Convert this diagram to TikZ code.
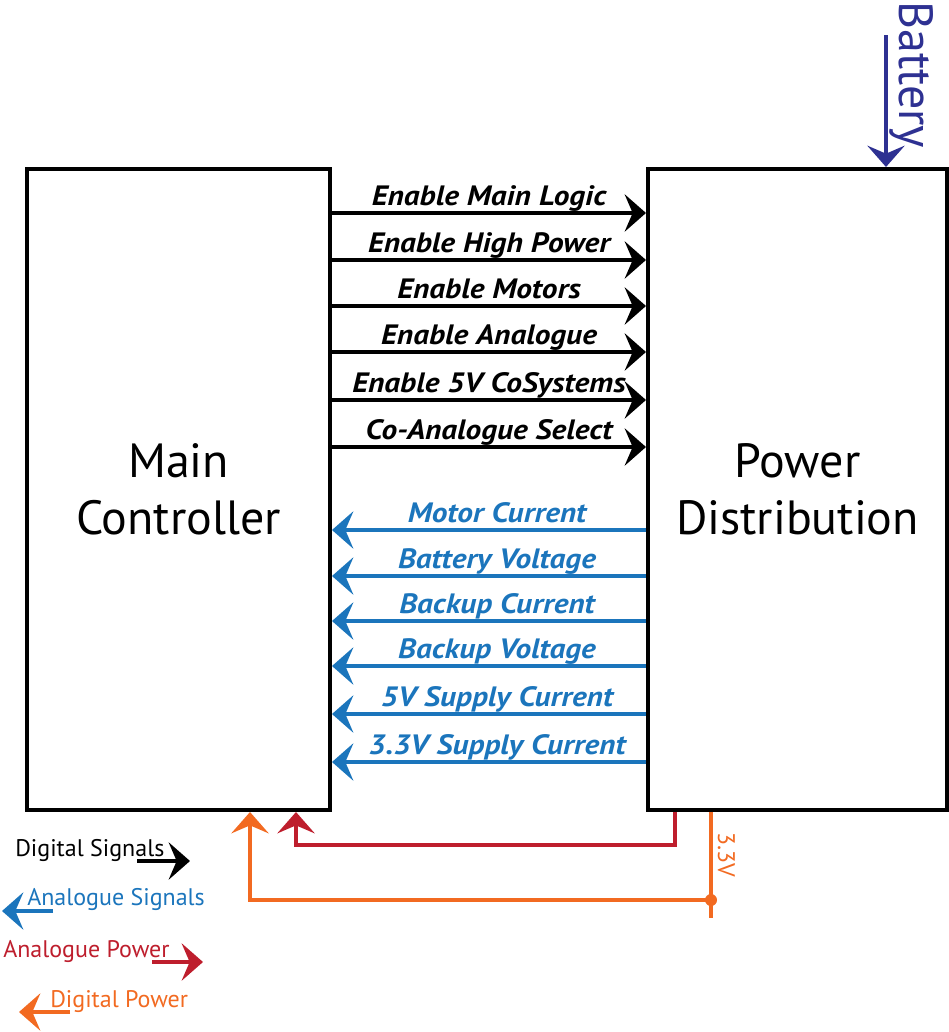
\documentclass[tikz,border=0pt]{standalone}
\usepackage{fontspec}
\setmainfont{PT Sans}
\newfontfamily\sigfont[FakeStretch=1.12]{PT Sans}
\usetikzlibrary{arrows.meta}

\definecolor{anablue}{HTML}{1B75BC}
\definecolor{anared}{HTML}{BE1E2D}
\definecolor{digorange}{HTML}{F26A21}
\definecolor{battnavy}{HTML}{2E3192}

\newcommand\blocktextstyle{\fontsize{36}{43}\selectfont}
\newcommand\sigtextstyle{\sigfont\fontsize{21}{25}\selectfont\bfseries\itshape}
\newcommand\keytextstyle{\fontsize{18}{21}\selectfont}

\tikzset{
  block/.style={draw, line width=3pt, inner sep=0pt, align=center, font=\blocktextstyle},
  wire/.style={line width=2.7pt, -{Stealth[length=16pt, width=28pt, inset=6pt]}},
  digsig/.style={wire, black},
  anasig/.style={wire, anablue},
  anapwr/.style={wire, anared},
  digpwr/.style={wire, digorange},
  siglabel/.style={font=\sigtextstyle, inner sep=0pt, anchor=base},
  keylabel/.style={font=\keytextstyle, inner sep=0pt, anchor=base west},
}

% one control line, controller -> distribution
\newcommand\digline[3]{
  \draw[digsig] (mc.east |- {(0,#2)}) -- (pd.west |- {(0,#2)})
    node[siglabel, pos=.5, yshift=6pt] (#1) {#3} ;
}
% one measurement line, distribution -> controller
\newcommand\analine[3]{
  \draw[anasig] (pd.west |- {(0,#2)}) -- (mc.east |- {(0,#2)})
    node[siglabel, anablue, pos=.5, xshift=6pt, yshift=6pt] (#1) {#3} ;
}

\begin{document}
\begin{tikzpicture}[x=0.75pt, y=-0.75pt]
    \useasboundingbox (0,0) rectangle (949,1032) ;
    \node[block, minimum width=227.25pt, minimum height=480.75pt] (mc) at (178.5, 489.5) {Main\\Controller} ;
    \node[block, minimum width=224.25pt, minimum height=480.75pt] (pd) at (797.5, 489.5) {Power\\Distribution} ;
    % control lines
    \digline{mainlogic}{213}{Enable Main Logic}
    \digline{highpower}{260}{Enable High Power}
    \digline{motors}{306}{Enable Motors}
    \digline{analogue}{352}{Enable Analogue}
    \digline{cosystems}{400}{Enable 5V CoSystems}
    \digline{coselect}{447}{Co-Analogue Select}
    % measurement lines
    \analine{motorcur}{530}{Motor Current}
    \analine{battvolt}{576}{Battery Voltage}
    \analine{backcur}{621}{Backup Current}
    \analine{backvolt}{666}{Backup Voltage}
    \analine{fivecur}{714}{5V Supply Current}
    \analine{threecur}{762}{3.3V Supply Current}
    % battery input
    \node[rotate=-90, anchor=base west, inner sep=0pt, font=\blocktextstyle, text=battnavy] (batt) at (899, 1) {Battery} ;
    \coordinate (battin) at (886, 35) ;
    \draw[wire, battnavy] (battin) -- (pd.north -| battin) ;
    % power back to the controller
    \coordinate (redcorner) at (675, 845) ;
    \coordinate (redtip) at (296, 810) ;
    \draw[anapwr] (pd.south -| redcorner) |- (redcorner -| redtip) -- (mc.south -| redtip) ;
    \coordinate (jn) at (711, 900) ;
    \coordinate (orangeend) at (711, 918) ;
    \coordinate (orangetip) at (250, 810) ;
    \draw[digorange, line width=2.7pt] (pd.south -| jn) -- (orangeend) ;
    \draw[digpwr] (jn) -| (mc.south -| orangetip) ;
    \fill[digorange] (jn) circle (4.5pt) ;
    \node[rotate=-90, keylabel, text=digorange] (threev) at (718, 832) {3.3V} ;
    % key
    \node[keylabel] (digkey) at (15, 856) {Digital Signals} ;
    \coordinate (digkeytail) at (137, 861) ;
    \coordinate (digkeytip) at (190, 861) ;
    \draw[digsig] (digkeytail) -- (digkeytip) ;
    \node[keylabel, text=anablue] (anakey) at (27, 905) {Analogue Signals} ;
    \coordinate (anakeytail) at (53, 911) ;
    \coordinate (anakeytip) at (2, 911) ;
    \draw[anasig] (anakeytail) -- (anakeytip) ;
    \node[keylabel, text=anared] (apkey) at (3, 957) {Analogue Power} ;
    \coordinate (apkeytail) at (152, 962) ;
    \coordinate (apkeytip) at (203, 962) ;
    \draw[anapwr] (apkeytail) -- (apkeytip) ;
    \node[keylabel, text=digorange] (dpkey) at (50, 1007) {Digital Power} ;
    \coordinate (dpkeytail) at (70, 1012) ;
    \coordinate (dpkeytip) at (19, 1012) ;
    \draw[digpwr] (dpkeytail) -- (dpkeytip) ;
\end{tikzpicture}
\end{document}
